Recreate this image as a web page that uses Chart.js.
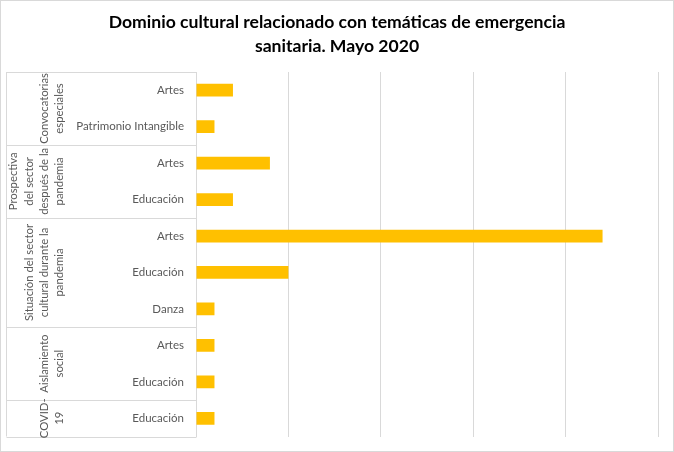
<!DOCTYPE html>
<html>
<head>
<meta charset="utf-8">
<script src="https://cdn.jsdelivr.net/npm/chart.js@4"></script>
<style>
html,body{margin:0;padding:0;background:#fff;}
#wrap{width:674px;height:452px;position:relative;}
</style>
</head>
<body>
<div id="wrap"><canvas id="c" width="674" height="452"></canvas></div>
<script>
const titleLines = ['Dominio cultural relacionado con temáticas de emergencia', 'sanitaria. Mayo 2020'];
const groupLabels = [
  ['Convocatorias', 'especiales'],
  ['Prospectiva', 'del sector', 'después de la', 'pandemia'],
  ['Situación del sector', 'cultural durante la', 'pandemia'],
  ['Aislamiento', 'social'],
  ['COVID-', '19']
];
const groupSizes = [2, 2, 3, 2, 1];
const categories = ['Artes', 'Patrimonio Intangible', 'Artes', 'Educación', 'Artes', 'Educación', 'Danza', 'Artes', 'Educación', 'Educación'];
const values = [2, 1, 4, 2, 22, 5, 1, 1, 1, 1];
const xMin = 0, xMax = 25, xStep = 5;

const FONT = 'Lato, "Open Sans", sans-serif';
const GRID = '#d9d9d9';
const TXT = '#595959';

const decor = {
  id: 'decor',
  afterDraw(chart) {
    const ctx = chart.ctx;
    const area = chart.chartArea;
    ctx.save();
    // outer border
    ctx.strokeStyle = GRID;
    ctx.lineWidth = 1;
    ctx.strokeRect(0.5, 0.5, chart.width - 1, chart.height - 1);
    // title
    ctx.fillStyle = '#000';
    ctx.font = 'bold 17.6px ' + FONT;
    ctx.textAlign = 'center';
    ctx.textBaseline = 'middle';
    titleLines.forEach((t, i) => ctx.fillText(t, chart.width / 2, 22.5 + i * 24));
    // group boxes
    const left = 6.5;
    const right = Math.round(area.left) + 0.5;
    const rowH = (area.bottom - area.top) / categories.length;
    ctx.strokeStyle = GRID;
    ctx.beginPath();
    ctx.moveTo(left, area.top);
    ctx.lineTo(left, area.bottom);
    let idx = 0;
    const bounds = [area.top];
    groupSizes.forEach(n => { idx += n; bounds.push(area.top + idx * rowH); });
    bounds.forEach(b => {
      const yy = Math.round(b) + 0.5;
      ctx.moveTo(left, yy);
      ctx.lineTo(right, yy);
    });
    ctx.stroke();
    // group labels (rotated)
    ctx.fillStyle = TXT;
    ctx.font = '11.3px ' + FONT;
    ctx.textAlign = 'center';
    ctx.textBaseline = 'middle';
    groupLabels.forEach((lines, g) => {
      const cy = (bounds[g] + bounds[g + 1]) / 2;
      const n = lines.length;
      lines.forEach((t, i) => {
        const cx = 59.5 - (n - 1 - i) * 15.3;
        ctx.save();
        ctx.translate(cx, cy);
        ctx.rotate(-Math.PI / 2);
        ctx.fillText(t, 0, 0);
        ctx.restore();
      });
    });
    ctx.restore();
  }
};

new Chart(document.getElementById('c'), {
  type: 'bar',
  data: {
    labels: categories,
    datasets: [{
      data: values,
      backgroundColor: '#FFC000',
      borderWidth: 0,
      barPercentage: 0.35,
      categoryPercentage: 1.0
    }]
  },
  options: {
    indexAxis: 'y',
    responsive: false,
    animation: false,
    layout: { padding: { top: 72, bottom: 15.5, right: 16, left: 0 } },
    plugins: { legend: { display: false }, tooltip: { enabled: false }, title: { display: false } },
    scales: {
      x: {
        min: xMin, max: xMax,
        ticks: { display: false, stepSize: xStep },
        grid: { color: GRID, drawTicks: false, lineWidth: 1 },
        border: { display: false },
        afterFit(s) { s.height = 0; s.paddingLeft = 0; s.paddingRight = 0; }
      },
      y: {
        grid: { display: false, drawTicks: false },
        border: { display: true, color: GRID },
        ticks: { color: TXT, font: { family: FONT, size: 11.5 }, padding: 12, autoSkip: false },
        afterFit(s) { s.width = 196; s.paddingTop = 0; s.paddingBottom = 0; }
      }
    }
  },
  plugins: [decor]
});
</script>
</body>
</html>
